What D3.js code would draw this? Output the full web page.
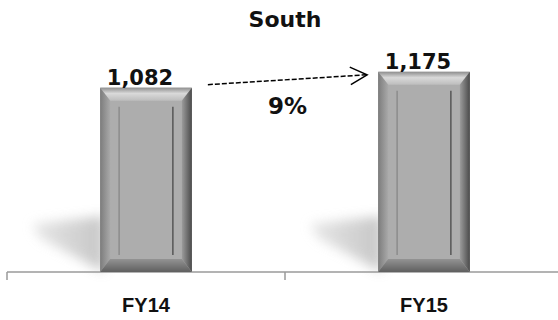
<!DOCTYPE html>
<html>
<head>
<meta charset="utf-8">
<script src="https://cdn.jsdelivr.net/npm/d3@7/dist/d3.min.js"></script>
<style>
  html, body { margin: 0; padding: 0; background: #fff; }
  svg { display: block; }
</style>
</head>
<body>
<svg id="chart" width="558" height="320"></svg>
<script>
// data
const title = 'South';
const categories = ['FY14', 'FY15'];
const values = [1082, 1175];

const W = 558, H = 320;
const svg = d3.select('#chart');
const defs = svg.append('defs');

// scales
const x = d3.scaleBand().domain(categories).range([7, 563]).padding(0);
const y = d3.scaleLinear().domain([0, 1250]).range([272, 59]);
const barW = x.bandwidth() * 0.33;
const barX = c => x(c) + (x.bandwidth() - barW) / 2;

// gradients for the bevel faces
function grad(id, x2, y2, stops) {
  const g = defs.append('linearGradient').attr('id', id)
    .attr('x1', 0).attr('y1', 0).attr('x2', x2).attr('y2', y2);
  stops.forEach(([o, c]) => g.append('stop').attr('offset', o).attr('stop-color', c));
}
grad('gTop', 0, 1, [[0, '#8e8e8e'], [0.45, '#d9d9d9'], [1, '#bdbdbd']]);
grad('gLeft', 1, 0, [[0, '#7c7c7c'], [1, '#a9a9a9']]);
grad('gRight', 1, 0, [[0, '#9c9c9c'], [1, '#4a4a4a']]);
grad('gBot', 0, 1, [[0, '#939393'], [1, '#5f5f5f']]);
grad('gShadow', 1, 0, [[0, '#e2e2e2'], [1, '#b8b8b8']]);

defs.append('filter').attr('id', 'blur')
  .attr('x', '-50%').attr('y', '-50%').attr('width', '200%').attr('height', '200%')
  .append('feGaussianBlur').attr('stdDeviation', 6);

// shadows
const base = y(0);
svg.append('g').selectAll('polygon')
  .data(categories)
  .join('polygon')
  .attr('points', c => {
    const L = barX(c);
    return [[L + 4, base], [L + 4, base - 56], [L - 68, base - 48], [L - 60, base - 34]].join(' ');
  })
  .attr('fill', 'url(#gShadow)')
  .attr('opacity', 0.8)
  .attr('filter', 'url(#blur)');

// axis
const axis = svg.append('g').attr('stroke', '#9a9a9a').attr('stroke-width', 1.5).attr('fill', 'none');
axis.append('line').attr('x1', x.range()[0]).attr('x2', W).attr('y1', base).attr('y2', base);
axis.selectAll('line.tick')
  .data(categories)
  .join('line').attr('class', 'tick')
  .attr('x1', c => x(c)).attr('x2', c => x(c))
  .attr('y1', base).attr('y2', base + 8);

// bars with bevel
const bars = svg.append('g').selectAll('g')
  .data(categories.map((c, i) => ({ c, v: values[i] })))
  .join('g');

bars.each(function (d) {
  const g = d3.select(this);
  const x0 = barX(d.c), y0 = y(d.v), w = barW, h = base - y0;
  const bs = 10, bt = 13, bb = 13;
  const pts = a => a.map(p => p.join(',')).join(' ');
  g.append('rect').attr('x', x0).attr('y', y0).attr('width', w).attr('height', h).attr('fill', '#adadad');
  g.append('polygon').attr('fill', 'url(#gTop)')
    .attr('points', pts([[x0, y0], [x0 + w, y0], [x0 + w - bs, y0 + bt], [x0 + bs, y0 + bt]]));
  g.append('polygon').attr('fill', 'url(#gLeft)')
    .attr('points', pts([[x0, y0], [x0 + bs, y0 + bt], [x0 + bs, y0 + h - bb], [x0, y0 + h]]));
  g.append('polygon').attr('fill', 'url(#gRight)')
    .attr('points', pts([[x0 + w, y0], [x0 + w - bs, y0 + bt], [x0 + w - bs, y0 + h - bb], [x0 + w, y0 + h]]));
  g.append('polygon').attr('fill', 'url(#gBot)')
    .attr('points', pts([[x0, y0 + h], [x0 + bs, y0 + h - bb], [x0 + w - bs, y0 + h - bb], [x0 + w, y0 + h]]));
  // inner grooves
  g.append('line').attr('x1', x0 + 19).attr('x2', x0 + 19).attr('y1', y0 + 19).attr('y2', base - 17)
    .attr('stroke', '#8c8c8c').attr('stroke-width', 1.5);
  g.append('line').attr('x1', x0 + w - 19).attr('x2', x0 + w - 19).attr('y1', y0 + 19).attr('y2', base - 17)
    .attr('stroke', '#575757').attr('stroke-width', 1.5);
});

// value labels
bars.append('text')
  .attr('x', d => barX(d.c) + barW / 2 - 6)
  .attr('y', d => y(d.v) - 3)
  .attr('text-anchor', 'middle')
  .attr('font-family', 'DejaVu Sans, sans-serif')
  .attr('font-weight', 'bold')
  .attr('font-size', 21)
  .attr('fill', '#111')
  .text(d => d3.format(',')(d.v));

// category labels
svg.append('g').selectAll('text')
  .data(categories)
  .join('text')
  .attr('x', c => x(c) + x.bandwidth() / 2)
  .attr('y', 312)
  .attr('text-anchor', 'middle')
  .attr('font-family', 'Liberation Sans, Arial, sans-serif')
  .attr('font-weight', 'bold')
  .attr('font-size', 20)
  .attr('fill', '#111')
  .text(c => c);

// title
svg.append('text')
  .attr('x', (x.range()[0] + x.range()[1]) / 2)
  .attr('y', 27)
  .attr('text-anchor', 'middle')
  .attr('font-family', 'DejaVu Sans, sans-serif')
  .attr('font-weight', 'bold')
  .attr('font-size', 22)
  .attr('fill', '#111')
  .text(title);

// growth arrow
const ax1 = barX(categories[0]) + barW + 16, ay1 = y(values[0]) - 3;
const ax2 = barX(categories[1]) - 11, ay2 = y(values[1]) + 3;
svg.append('line')
  .attr('x1', ax1).attr('y1', ay1).attr('x2', ax2).attr('y2', ay2)
  .attr('stroke', '#000').attr('stroke-width', 1.5).attr('stroke-dasharray', '5,2');
const ang = Math.atan2(ay2 - ay1, ax2 - ax1);
const headLen = 19, headAng = 0.48;
svg.append('polyline')
  .attr('points', [
    [ax2 - headLen * Math.cos(ang - headAng), ay2 - headLen * Math.sin(ang - headAng)],
    [ax2, ay2],
    [ax2 - headLen * Math.cos(ang + headAng), ay2 - headLen * Math.sin(ang + headAng)]
  ].join(' '))
  .attr('fill', 'none').attr('stroke', '#000').attr('stroke-width', 1.5);

const growth = values[1] / values[0] - 1;
svg.append('text')
  .attr('x', (ax1 + ax2) / 2)
  .attr('y', (ay1 + ay2) / 2 + 34)
  .attr('text-anchor', 'middle')
  .attr('font-family', 'DejaVu Sans, sans-serif')
  .attr('font-weight', 'bold')
  .attr('font-size', 23)
  .attr('fill', '#111')
  .text(d3.format('.0%')(growth));
</script>
</body>
</html>
